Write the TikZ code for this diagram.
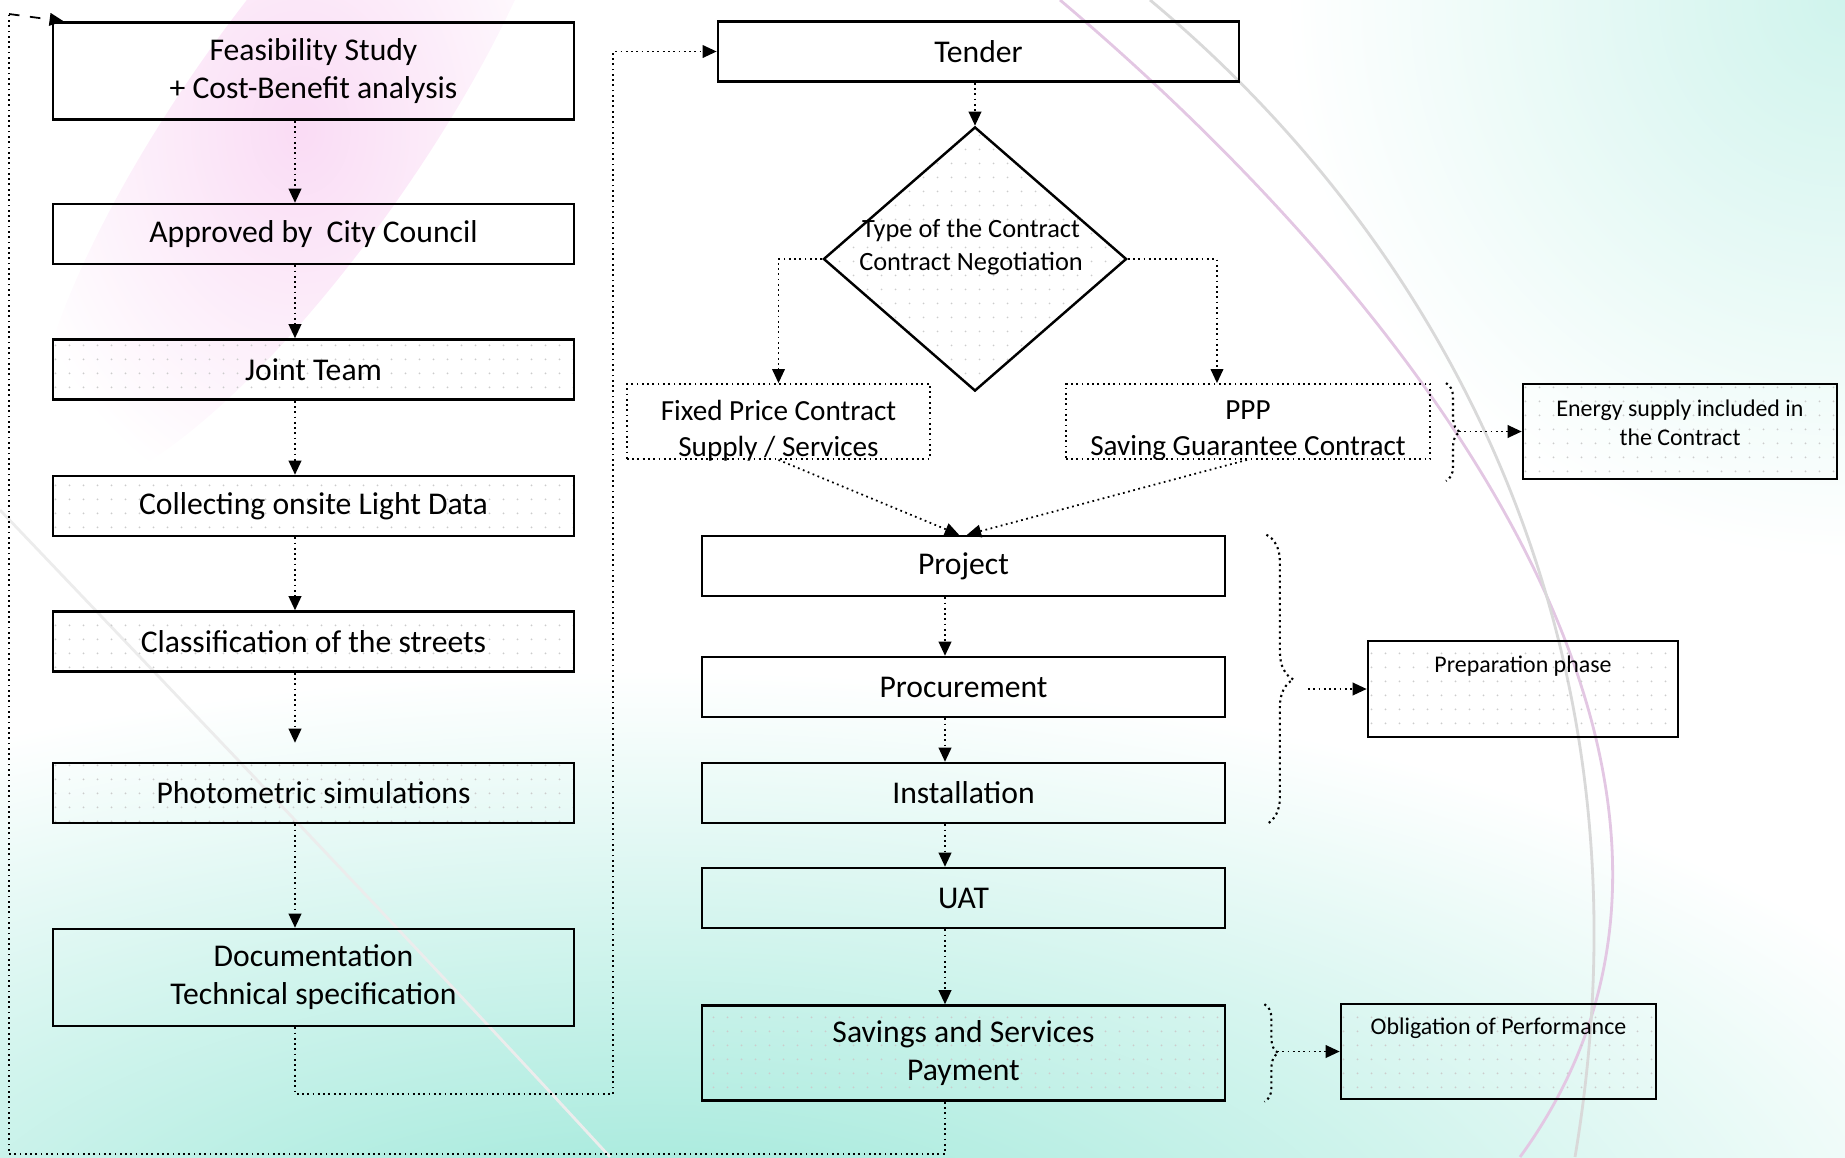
\documentclass[tikz,border=0pt]{standalone}
\usepackage{fontspec}
\setmainfont{Carlito}
\usetikzlibrary{arrows.meta,shapes.geometric,patterns.meta,decorations.pathreplacing}

\definecolor{bgteal}{RGB}{150,230,214}
\definecolor{bgpink}{RGB}{246,196,238}

\tikzset{
  stepbox/.style={draw, line width=0.7pt, minimum width=5.21cm, minimum height=0.6cm,
    inner sep=1pt, align=center, font=\fontsize{9}{10.8}\selectfont},
  notebox/.style={draw, line width=0.7pt, inner sep=1pt, align=center},
  dotted fill/.style={pattern={Dots[distance=0.14cm,radius=0.3pt]}, pattern color=gray!40},
  choicebox/.style={draw, densely dotted, line width=0.5pt, minimum width=3.03cm, minimum height=0.75cm},
  choicetext/.style={font=\fontsize{8.3}{10.2}\selectfont, align=center},
  decision/.style={draw, diamond, line width=0.7pt, inner sep=0pt, minimum width=3.03cm, minimum height=2.64cm},
  flow/.style={densely dotted, line width=0.5pt, -{Triangle[length=4pt,width=3.6pt]}},
  link/.style={densely dotted, line width=0.5pt},
  curly/.style={densely dotted, line width=0.6pt, decorate, decoration={brace, amplitude=#1}},
  smalltext/.style={font=\fontsize{6.8}{8.2}\selectfont, align=center},
}

\begin{document}
\begin{tikzpicture}[x=0.01cm, y=-0.01cm]
  \useasboundingbox (0,0) rectangle (1845,1157);

  % soft background
  \shade[inner color=bgteal, outer color=white] (650,1290) ellipse (1450 and 620);
  \shade[inner color=bgteal!45, outer color=white] (1845,0) circle (560);
  \shade[inner color=bgpink!60, outer color=white, rotate around={55:(300,130)}] (300,130) ellipse (430 and 120);
  \draw[violet!22, line width=0.8pt] (1060,0) .. controls (1450,330) and (1780,800) .. (1520,1157);
  \draw[gray!30, line width=0.8pt] (1150,0) .. controls (1450,250) and (1660,650) .. (1575,1157);
  \draw[gray!15, line width=0.8pt] (0,510) .. controls (200,720) and (420,950) .. (610,1157);

  % left column
  \node[stepbox, minimum height=0.97cm] (feas) at (313.5,71) {Feasibility Study\\+ Cost-Benefit analysis};
  \node[stepbox] (appr) at (313.5,234) {Approved by\ \ City Council};
  \node[stepbox, dotted fill] (team) at (313.5,369.5) {Joint Team};
  \node[stepbox, dotted fill] (onsite) at (313.5,506) {Collecting onsite Light Data};
  \node[stepbox, dotted fill] (streets) at (313.5,641.5) {Classification of the streets};
  \node[stepbox, dotted fill] (photo) at (313.5,793) {Photometric simulations};
  \node[stepbox, minimum height=0.97cm] (docu) at (313.5,977.5) {Documentation\\Technical specification};

  % right column
  \node[stepbox] (tender) at (978.5,51.5) {Tender};
  \node[decision, dotted fill] (ctype) at (975,259) {};
  \node[font=\fontsize{7.5}{9.2}\selectfont, align=center] (ctypetxt) at (971,247) {Type of the Contract\\Contract Negotiation};
  \node[choicebox] (fixed) at (778.5,421.5) {};
  \node[choicetext] (fixedtxt) at (778.5,431) {Fixed Price Contract\\Supply / Services};
  \node[choicebox, minimum width=3.64cm] (ppp) at (1248,421.5) {};
  \node[choicetext] (ppptxt) at (1248,431) {PPP\\Saving Guarantee Contract};
  \node[notebox, dotted fill, minimum width=3.14cm, minimum height=0.95cm] (energy) at (1680,431.5) {};
  \node[smalltext] (energytxt) at (1680,423) {Energy supply included in\\the Contract};

  \node[stepbox, minimum width=5.23cm] (project) at (963.5,566) {Project};
  \node[stepbox, minimum width=5.23cm] (procure) at (963.5,687) {Procurement};
  \node[stepbox, minimum width=5.23cm] (install) at (963.5,793) {Installation};
  \node[stepbox, minimum width=5.23cm] (uat) at (963.5,898) {UAT};
  \node[stepbox, dotted fill, minimum width=5.23cm, minimum height=0.95cm] (savings) at (963.5,1053) {Savings and Services\\Payment};

  \node[notebox, dotted fill, minimum width=3.1cm, minimum height=0.96cm] (prep) at (1523,689) {};
  \node[smalltext] (preptxt) at (1523,666) {Preparation phase};
  \node[notebox, dotted fill, minimum width=3.15cm, minimum height=0.95cm] (oblig) at (1498.5,1051.5) {};
  \node[smalltext] (obligtxt) at (1498.5,1028) {Obligation of Performance};

  % arrows down the columns
  \coordinate (lx) at (295,0);
  \coordinate (rx) at (945,0);
  \coordinate (phototop) at ([yshift=0.19cm]photo.north);
  \foreach \a/\b in {feas/appr, appr/team, team/onsite, onsite/streets, photo/docu}
    \draw[flow] (\a.south -| lx) -- (\b.north -| lx);
  \draw[flow] (streets.south -| lx) -- (phototop -| lx);
  \foreach \a/\b in {project/procure, procure/install, install/uat, uat/savings}
    \draw[flow] (\a.south -| rx) -- (\b.north -| rx);

  \draw[flow] (tender.south -| ctype.north) -- (ctype.north);
  \draw[flow] (ctype.west) -| (fixed.north);
  \draw[flow] (ctype.east) -| ([xshift=-0.31cm]ppp.north);
  \draw[flow] (fixed.south) -- ([xshift=-0.045cm]project.north);
  \draw[flow] ([xshift=-0.01cm]ppp.south) -- ([xshift=0.035cm]project.north);

  % documentation goes on to the tender
  \coordinate (turn) at (613,1094);
  \draw[flow] (docu.south -| lx) |- (turn) |- (tender.west);

  % payment loops back to the start
  \coordinate (loopbl) at (9,1154);
  \coordinate (looptl) at (9,14);
  \draw[link] (savings.south -| rx) |- (loopbl) -- (looptl);
  \draw[dashed, line width=0.5pt, -{Triangle[length=4pt,width=3.6pt]}] (looptl) -- ([xshift=0.12cm]feas.north west);

  % braces
  \draw[curly=0.14cm] ([xshift=0.15cm]ppp.north east) -- ([xshift=0.15cm,yshift=-0.21cm]ppp.south east);
  \coordinate (ppptip) at (1459,431.5);
  \draw[flow] (ppptip) -- (energy.west);

  \draw[curly=0.27cm] ([xshift=0.4cm]project.north east) -- ([xshift=0.4cm]install.south east);
  \coordinate (preptip) at (1308,689);
  \draw[flow] (preptip) -- (prep.west);

  \draw[curly=0.14cm] ([xshift=0.38cm]savings.north east) -- ([xshift=0.38cm]savings.south east);
  \coordinate (obligtip) at (1277,1051.5);
  \draw[flow] (obligtip) -- (oblig.west);
\end{tikzpicture}
\end{document}
